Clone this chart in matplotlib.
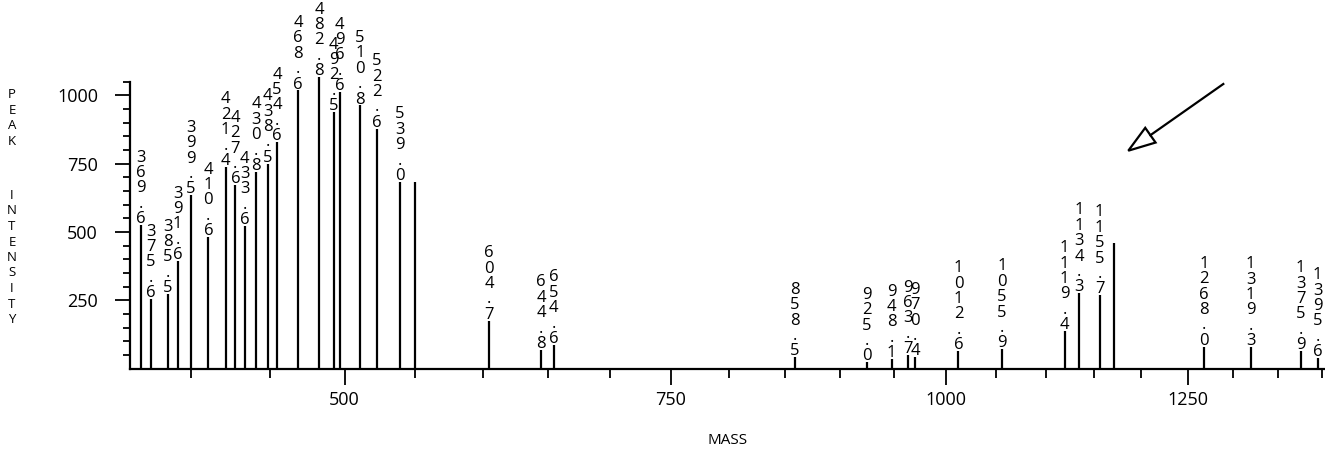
import numpy as np
import matplotlib
matplotlib.use("Agg")
import matplotlib.pyplot as plt
from matplotlib.lines import Line2D
from matplotlib.patches import Polygon

plt.rcParams["font.family"] = ["Open Sans", "DejaVu Sans"]

# peak positions, their printed labels and intensities
masses = [369.6, 375.6, 385.5, 391.6, 399.5, 410.6, 421.4, 427.6, 433.6, 441.0,
          448.5, 454.6, 468.6, 482.8, 492.5, 496.6, 510.8, 522.6, 539.0, 550.0,
          604.7, 644.8, 654.6, 858.5, 925.0, 948.1, 963.7, 970.4, 1012.6, 1055.9,
          1119.4, 1134.3, 1155.7, 1171.0, 1268.0, 1319.3, 1375.9, 1395.6]
labels = ["369.6", "375.6", "385.5", "391.6", "399.5", "410.6", "421.4", "427.6", "433.6", "430.8",
          "438.5", "454.6", "468.6", "482.8", "492.5", "496.6", "510.8", "522.6", "539.0", "",
          "604.7", "644.8", "654.6", "858.5", "925.0", "948.1", "963.7", "970.4", "1012.6", "1055.9",
          "1119.4", "1134.3", "1155.7", "", "1268.0", "1319.3", "1375.9", "1395.6"]
intensities = [525, 254, 272, 393, 634, 481, 738, 671, 521, 720,
               750, 829, 1018, 1067, 939, 1012, 963, 878, 683, 683,
               175, 68, 86, 41, 23, 34, 49, 41, 64, 70,
               137, 275, 268, 461, 80, 78, 64, 38]

x_major = [500, 750, 1000, 1250]
x_minor = [400, 450, 550, 600, 650, 700, 800, 850, 900, 950,
           1050, 1100, 1150, 1200, 1300, 1350, 1400]
y_major = [250, 500, 750, 1000]
y_minor = [50, 100, 150, 200, 300, 350, 400, 450, 550, 600,
           650, 700, 800, 850, 900, 950, 1050]

W, H = 1325, 455
fig = plt.figure(figsize=(W / 100, H / 100), dpi=100)
ax = fig.add_axes([130 / W, 1 - 368.5 / H, (W - 130) / W, (368.5 - 81.7) / H])

ax.set_xscale("function", functions=(np.sqrt, np.square))
ax.set_xlim(363.1, 1404)
ax.set_ylim(0, 1050)

ax.vlines(masses, 0, intensities, colors="black", linewidth=1.6, clip_on=False)
for m, h, lab in zip(masses, intensities, labels):
    if lab:
        ax.annotate("\n".join(lab), (m, h), xytext=(0, -1.5), textcoords="offset points",
                    ha="center", va="bottom", fontsize=12, linespacing=0.95,
                    annotation_clip=False)

for side in ["top", "right"]:
    ax.spines[side].set_visible(False)
for side in ["left", "bottom"]:
    ax.spines[side].set_linewidth(1.6)

ax.set_xticks(x_major)
ax.set_xticks(x_minor, minor=True)
ax.set_xticklabels([str(v) for v in x_major])
ax.set_yticks(y_major)
ax.set_yticks(y_minor, minor=True)
ax.set_yticklabels([str(v) for v in y_major])

ax.tick_params(axis="x", which="major", direction="out", length=11.5, width=1.3,
               pad=5, labelsize=13)
ax.tick_params(axis="x", which="minor", direction="out", length=6.5, width=1.3)
ax.tick_params(axis="y", which="major", direction="out", length=11, width=1.3,
               pad=12, labelsize=13)
ax.tick_params(axis="y", which="minor", direction="out", length=5, width=1.3)

ax.set_xlabel("MASS", fontsize=11)
ax.xaxis.label.set_va("center")
ax.xaxis.set_label_coords(0.5, (368.5 - 441) / (368.5 - 81.7))

fig.text(12 / W, 1 - 118 / H, "\n".join("PEAK"), ha="center", va="center",
         fontsize=9.5, linespacing=1.25)
fig.text(12 / W, 1 - 257.5 / H, "\n".join("INTENSITY"), ha="center", va="center",
         fontsize=9.5, linespacing=1.25)

# open-headed arrow, in figure pixels
tail = np.array([1223.3, 84.0])
tip = np.array([1128.3, 150.7])
d = (tip - tail) / np.linalg.norm(tip - tail)
n = np.array([-d[1], d[0]])
base = tip - d * 27.0
head = [tip, base + n * 9.0, base - n * 9.0]


def to_fig(p):
    return (p[0] / W, 1 - p[1] / H)


fig.add_artist(Line2D([to_fig(tail)[0], to_fig(base)[0]], [to_fig(tail)[1], to_fig(base)[1]],
                      transform=fig.transFigure, color="black", linewidth=1.6))
fig.add_artist(Polygon([to_fig(p) for p in head], closed=True, transform=fig.transFigure,
                       facecolor="white", edgecolor="black", linewidth=1.6))

fig.savefig("out.png", dpi=100)
